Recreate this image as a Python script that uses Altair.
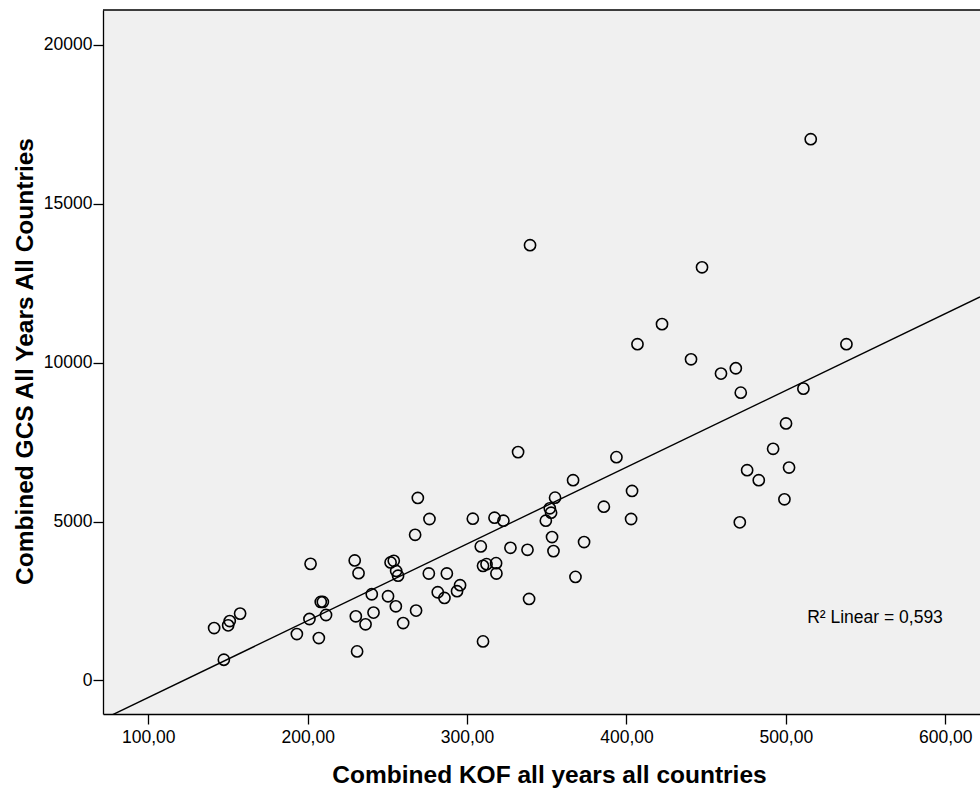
import altair as alt
import pandas as pd

# ---- data ----
kof = [141.3, 150.1, 151.1, 157.6, 147.4, 201.8, 193.2, 201.1, 207.0, 208.2,
       209.5, 211.5, 229.5, 231.9, 240.2, 230.2, 236.3, 241.3, 231.0, 250.4,
       252.0, 254.0, 255.5, 256.7, 255.3, 259.9, 332.0, 393.7, 269.1, 366.5,
       403.5, 355.2, 276.4, 303.6, 317.2, 322.8, 351.9, 352.7, 349.4, 385.8,
       402.9, 267.4, 308.6, 327.2, 337.9, 353.3, 354.2, 373.4, 276.0, 287.3,
       310.0, 312.2, 318.2, 318.4, 295.6, 293.7, 281.6, 285.8, 368.0, 268.0,
       338.9, 310.0, 422.3, 440.5, 459.3, 468.6, 471.7, 538.0, 511.0, 500.1,
       492.0, 475.7, 483.0, 502.0, 499.1, 471.1, 339.5, 406.9, 515.6, 447.4]
gcs = [1650, 1735, 1871, 2104, 653, 3669, 1461, 1934, 1335, 2470,
       2470, 2060, 3777, 3376, 2713, 2019, 1767, 2136, 915, 2650,
       3713, 3764, 3445, 3297, 2335, 1808, 7184, 7026, 5742, 6300,
       5963, 5752, 5080, 5089, 5121, 5026, 5417, 5278, 5026, 5468,
       5080, 4584, 4218, 4174, 4111, 4512, 4070, 4354, 3366, 3366,
       3606, 3660, 3691, 3366, 2997, 2808, 2776, 2597, 3259, 2199,
       2565, 1230, 11210, 10105, 9654, 9822, 9055, 10579, 9181, 8086,
       7288, 6616, 6300, 6698, 5701, 4975, 13693, 10579, 17028, 12999]

fit_intercept = -2950.0
fit_slope = 24.15
r2_label = "R\u00b2 Linear = 0,593"

x_ticks = [100, 200, 300, 400, 500, 600]
y_ticks = [0, 5000, 10000, 15000, 20000]

x_title = "Combined KOF all years all countries"
y_title = "Combined GCS All Years All Countries"

# ---- scales / layout ----
X_DOMAIN = [71.58, 621.8]
Y_DOMAIN = [-1054, 21092]
W, H = 877, 704
FONT = "Liberation Sans"

pts = pd.DataFrame({"kof": kof, "gcs": gcs})
line_df = pd.DataFrame({"kof": X_DOMAIN})
line_df["gcs"] = fit_intercept + fit_slope * line_df["kof"]

xscale = alt.Scale(domain=X_DOMAIN, nice=False, zero=False)
yscale = alt.Scale(domain=Y_DOMAIN, nice=False, zero=False)

xaxis = alt.Axis(
    values=x_ticks,
    labelExpr="replace(format(datum.value, '.2f'), '.', ',')",
    title=x_title, titleFont=FONT, titleFontSize=24.5, titleFontWeight="bold",
    titleColor="black", titleX=446, titleY=68, titleAlign="center",
    titleBaseline="alphabetic",
    labelFont=FONT, labelFontSize=17.5, labelColor="black", labelPadding=4,
    tickSize=10, tickColor="black", tickWidth=1.3,
    domainColor="black", domainWidth=1.3, grid=False, labelFlush=False,
)
yaxis = alt.Axis(
    values=y_ticks, format="d",
    title=y_title, titleFont=FONT, titleFontSize=24.5, titleFontWeight="bold",
    titleColor="black", titleAngle=270, titleX=-71, titleY=351,
    titleAlign="center", titleBaseline="alphabetic",
    labelFont=FONT, labelFontSize=17.5, labelColor="black", labelPadding=1,
    tickSize=10, tickColor="black", tickWidth=1.3,
    domainColor="black", domainWidth=1.3, grid=False, labelFlush=False,
)

points = alt.Chart(pts).mark_point(
    shape="circle", filled=False, color="black", size=125, strokeWidth=1.6, opacity=1
).encode(
    x=alt.X("kof:Q", scale=xscale, axis=xaxis),
    y=alt.Y("gcs:Q", scale=yscale, axis=yaxis),
)

fit = alt.Chart(line_df).mark_line(color="black", strokeWidth=1.4, clip=True).encode(
    x=alt.X("kof:Q", scale=xscale),
    y=alt.Y("gcs:Q", scale=yscale),
)

top_border = alt.Chart(pd.DataFrame({"a": [0]})).mark_rule(
    color="black", strokeWidth=1.3
).encode(x=alt.value(0), x2=alt.value(W), y=alt.value(0))

label = alt.Chart(pd.DataFrame({"t": [r2_label]})).mark_text(
    font=FONT, fontSize=17.5, color="black", align="center", baseline="middle"
).encode(text="t:N", x=alt.value(772), y=alt.value(608))

chart = alt.layer(fit, points, top_border, label).properties(
    width=W, height=H,
    padding={"left": 103, "top": 10, "right": 0, "bottom": 76},
    autosize=alt.AutoSizeParams(type="none"),
    background="white",
).configure_view(fill="#f0f0f0", stroke=None)

chart.save("out.html", embed_options={"renderer": "svg", "actions": False})
